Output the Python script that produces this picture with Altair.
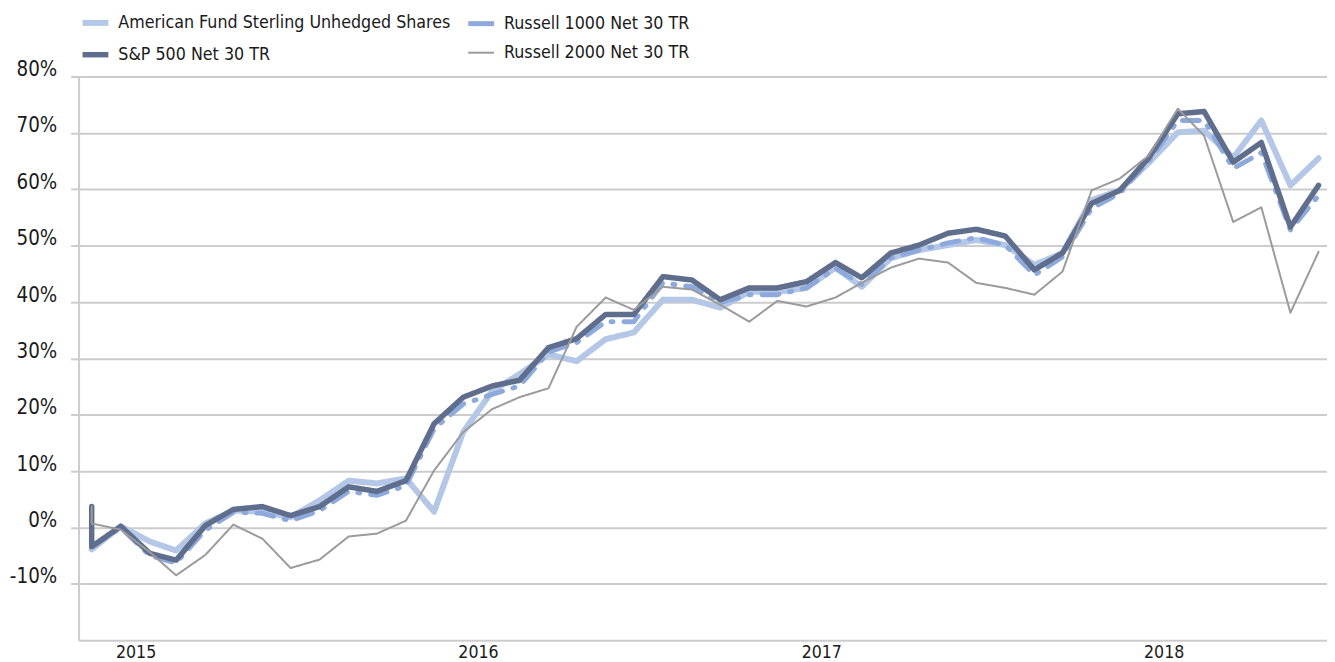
import altair as alt
import pandas as pd

# ---- data ----
dates = [
    "2014-11-30", "2014-11-30", "2014-12-31",
    "2015-01-31", "2015-02-28", "2015-03-31", "2015-04-30", "2015-05-31", "2015-06-30",
    "2015-07-31", "2015-08-31", "2015-09-30", "2015-10-31", "2015-11-30", "2015-12-31",
    "2016-01-31", "2016-02-29", "2016-03-31", "2016-04-30", "2016-05-31", "2016-06-30",
    "2016-07-31", "2016-08-31", "2016-09-30", "2016-10-31", "2016-11-30", "2016-12-31",
    "2017-01-31", "2017-02-28", "2017-03-31", "2017-04-30", "2017-05-31", "2017-06-30",
    "2017-07-31", "2017-08-31", "2017-09-30", "2017-10-31", "2017-11-30", "2017-12-31",
    "2018-01-31", "2018-02-28", "2018-03-31", "2018-04-30", "2018-05-31", "2018-06-30",
]

american = [-3.9, -3.9, 0.2, -2.5, -4.1, 0.7, 3.0, 2.8, 1.8, 4.8, 8.3, 7.8, 8.7,
            2.8, 16.9, 24.2, 27.2, 30.7, 29.5, 33.4, 34.6, 40.4, 40.4, 39.0, 41.8,
            41.8, 42.5, 46.1, 42.7, 47.8, 49.2, 50.1, 51.0, 50.1, 46.6, 48.7, 58.1,
            59.8, 64.7, 70.1, 70.4, 65.6, 72.2, 60.7, 65.5]
russell1000 = [-3.5, -3.5, 0.0, -5.0, -6.3, -0.5, 2.7, 2.5, 1.2, 3.0, 6.4, 5.7, 7.4,
               17.5, 21.9, 23.6, 25.1, 31.1, 32.8, 36.5, 36.5, 43.4, 42.7, 39.9, 41.3,
               41.3, 42.5, 46.0, 43.1, 47.8, 49.2, 50.5, 51.4, 50.1, 44.8, 48.0, 56.6,
               59.3, 65.0, 72.2, 72.2, 63.7, 66.5, 52.8, 58.9]
sp500 = [3.7, -3.4, 0.2, -4.6, -5.8, 0.3, 3.2, 3.7, 2.1, 3.7, 7.2, 6.4, 8.3,
         18.4, 23.1, 25.1, 26.1, 31.9, 33.5, 37.8, 37.8, 44.5, 43.9, 40.4, 42.5,
         42.5, 43.6, 47.0, 44.3, 48.7, 50.1, 52.2, 52.9, 51.7, 45.7, 48.7, 57.5,
         59.8, 65.6, 73.4, 73.8, 64.8, 68.3, 53.3, 60.7]
russell2000 = [3.7, 0.7, -0.4, -4.4, -8.5, -4.9, 0.5, -2.0, -7.2, -5.7, -1.6, -1.1, 1.2,
               10.1, 16.9, 21.0, 23.1, 24.7, 35.6, 40.8, 38.6, 42.7, 42.2, 39.5, 36.5,
               40.2, 39.2, 40.8, 43.4, 46.1, 47.7, 47.0, 43.4, 42.5, 41.3, 45.4, 59.8,
               61.9, 66.0, 74.3, 69.5, 54.2, 56.8, 38.1, 48.9]

# drawing order (bottom to top)
series_names = [
    "American Fund Sterling Unhedged Shares",
    "Russell 1000 Net 30 TR",
    "S&P 500 Net 30 TR",
    "Russell 2000 Net 30 TR",
]
series_values = [american, russell1000, sp500, russell2000]
series_colors = ["#b4c7e7", "#8eaadc", "#5f6e8c", "#9b9b9b"]
series_dash = [[1, 0], [17, 11, 2, 11], [1, 0], [1, 0]]
series_width = [6, 5, 5.5, 2]

# legend order (filled column by column)
legend_order = [series_names[0], series_names[2], series_names[1], series_names[3]]

years = [2015, 2016, 2017, 2018]
y_ticks = [-10, 0, 10, 20, 30, 40, 50, 60, 70, 80]

rows = []
for name, vals in zip(series_names, series_values):
    for i, (d, v) in enumerate(zip(dates, vals)):
        rows.append({"date": d + "T00:00:00", "value": v, "series": name, "idx": i})
df = pd.DataFrame(rows)

FONT = "DejaVu Sans Condensed, Liberation Sans Narrow, Arial Narrow, sans-serif"
GRID = "#cccccc"

legend = alt.Legend(
    title=None, orient="none", legendX=1, legendY=-70, columns=2,
    symbolType="stroke", symbolSize=676, labelFont=FONT, labelFontSize=17.8,
    labelColor="#1a1a1a", labelLimit=600, labelOffset=7, rowPadding=4,
    columnPadding=8, padding=0,
)

color_map = dict(zip(series_names, series_colors))
width_map = dict(zip(series_names, series_width))

x_enc = alt.X(
    "date:T",
    scale=alt.Scale(domain=[alt.DateTime(year=2014, month=11, date=16),
                            alt.DateTime(year=2018, month=7, date=9)]),
    axis=alt.Axis(
        title=None, values=[alt.DateTime(year=y, month=1, date=1) for y in years],
        format="%Y", labelOffset=14, ticks=False, grid=False,
        domainColor=GRID, domainWidth=2, labelFont=FONT, labelFontSize=17.7,
        labelColor="#1a1a1a", labelPadding=3, labelAngle=0,
    ),
)
y_enc = alt.Y(
    "value:Q",
    scale=alt.Scale(domain=[-20, 80], nice=False, zero=False),
    axis=alt.Axis(
        title=None, values=y_ticks, labelExpr="datum.value + '%'",
        grid=True, gridColor=GRID, gridWidth=2, tickColor=GRID, tickWidth=2,
        tickSize=8, domainColor=GRID, domainWidth=2, labelFont=FONT,
        labelFontSize=20.5, labelColor="#1a1a1a", labelPadding=14,
        labelBaseline="alphabetic", labelOffset=-1,
    ),
)

base = alt.Chart(df).encode(
    x=x_enc,
    y=y_enc,
    order=alt.Order("idx:Q"),
    color=alt.Color("series:N",
                    scale=alt.Scale(domain=legend_order, range=[color_map[s] for s in legend_order]),
                    legend=legend),
    strokeWidth=alt.StrokeWidth("series:N",
                                scale=alt.Scale(type="ordinal", domain=legend_order,
                                                range=[width_map[s] for s in legend_order]),
                                legend=legend),
    strokeDash=alt.StrokeDash("series:N",
                              scale=alt.Scale(domain=series_names, range=series_dash),
                              legend=None),
)

layers = [
    base.transform_filter(alt.datum.series == name).mark_line(strokeCap="round", strokeJoin="round")
    for name in series_names
]

chart = alt.layer(*layers).properties(
    width=1256, height=567,
    padding={"left": 71, "top": 67, "right": 0, "bottom": 20},
    autosize=alt.AutoSizeParams(type="none"),
    background="white",
).configure_view(stroke=None)

chart.save("out.html", embed_options={"renderer": "svg", "actions": False})
